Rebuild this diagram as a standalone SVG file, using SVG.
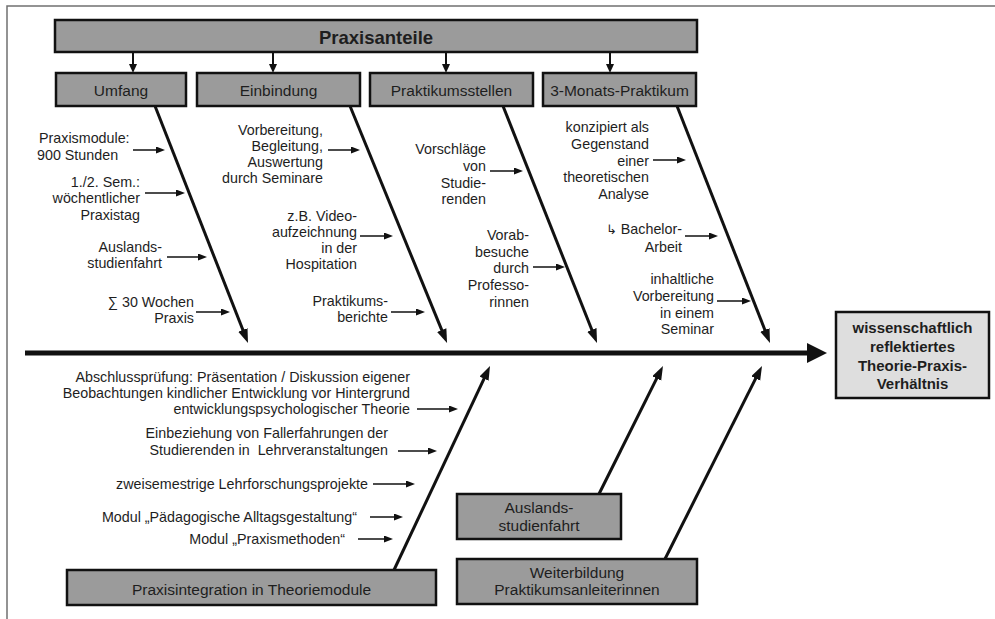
<svg xmlns="http://www.w3.org/2000/svg" width="995" height="619" viewBox="0 0 995 619">
<style>
  text { font-family: "Liberation Sans", Arial, sans-serif; fill: #1e1e1e; }
  .lbl { font-size: 14.3px; text-anchor: end; }
  .lbls { font-size: 14.3px; text-anchor: start; }
  .box { fill: #9b9b9b; stroke: #111; stroke-width: 2.5; }
  .res { fill: #dedede; stroke: #111; stroke-width: 2.5; }
  .bt { font-size: 15.5px; text-anchor: middle; }
  .rt { font-size: 15px; font-weight: bold; text-anchor: middle; }
  .small { stroke: #111; stroke-width: 1.5; fill: none; marker-end: url(#ah); }
  .bone { stroke: #111; stroke-width: 3; fill: none; marker-end: url(#bh); }
  .down { stroke: #111; stroke-width: 2; fill: none; marker-end: url(#dh); }
  .frame { stroke: #707070; stroke-width: 1.5; fill: none; }
</style>
<defs>
  <marker id="ah" markerUnits="userSpaceOnUse" markerWidth="10" markerHeight="8" refX="1" refY="3.5" orient="auto">
    <path d="M0,0 L9,3.5 L0,7 z" fill="#111"/>
  </marker>
  <marker id="dh" markerUnits="userSpaceOnUse" markerWidth="10" markerHeight="9" refX="1" refY="4" orient="auto">
    <path d="M0,0 L9,4 L0,8 z" fill="#111"/>
  </marker>
  <marker id="bh" markerUnits="userSpaceOnUse" markerWidth="15" markerHeight="11" refX="2" refY="5" orient="auto">
    <path d="M0,0 L14,5 L0,10 z" fill="#111"/>
  </marker>
  <marker id="sh" markerUnits="userSpaceOnUse" markerWidth="21" markerHeight="21" refX="2" refY="10" orient="auto">
    <path d="M0,0 L20,10 L0,20 z" fill="#111"/>
  </marker>
</defs>

<path class="frame" d="M995,6 H7 V619"/>

<g id="connectors">
  <line class="down" x1="133" y1="52" x2="133" y2="65"/>
  <line class="down" x1="273" y1="52" x2="273" y2="65"/>
  <line class="down" x1="446" y1="52" x2="446" y2="65"/>
  <line class="down" x1="610" y1="52" x2="610" y2="65"/>

  <line x1="25" y1="353" x2="809" y2="353" stroke="#111" stroke-width="5" marker-end="url(#sh)"/>

  <line class="bone" x1="155" y1="106" x2="243.6" y2="331.8"/>
  <line class="bone" x1="350" y1="106" x2="442.5" y2="331.9"/>
  <line class="bone" x1="503" y1="106" x2="592.6" y2="331.8"/>
  <line class="bone" x1="677" y1="106" x2="765.6" y2="331.8"/>

  <line class="bone" x1="394" y1="570" x2="484.9" y2="376.9"/>
  <line class="bone" x1="599" y1="494" x2="657.6" y2="376.7"/>
  <line class="bone" x1="665" y1="559" x2="756.6" y2="376.7"/>

  <line class="small" x1="133" y1="150" x2="157" y2="150"/>
  <line class="small" x1="145" y1="193" x2="177" y2="193"/>
  <line class="small" x1="167" y1="257" x2="199" y2="257"/>
  <line class="small" x1="196" y1="312" x2="222" y2="312"/>

  <line class="small" x1="328" y1="150" x2="352" y2="150"/>
  <line class="small" x1="360" y1="236" x2="385" y2="236"/>
  <line class="small" x1="391" y1="312" x2="417" y2="312"/>

  <line class="small" x1="490" y1="171" x2="515" y2="171"/>
  <line class="small" x1="533" y1="267" x2="557" y2="267"/>

  <line class="small" x1="653" y1="160" x2="678" y2="160"/>
  <line class="small" x1="685" y1="236" x2="710" y2="236"/>
  <line class="small" x1="717" y1="301" x2="743" y2="301"/>

  <line class="small" x1="417" y1="409" x2="450" y2="409"/>
  <line class="small" x1="398" y1="451" x2="429" y2="451"/>
  <line class="small" x1="373" y1="484" x2="407" y2="484"/>
  <line class="small" x1="370" y1="517" x2="395" y2="517"/>
  <line class="small" x1="358" y1="539" x2="385" y2="539"/>
</g>

<g id="praxisanteile">
  <rect class="box" x="55" y="20" width="642" height="32"/>
  <text x="376" y="43.5" font-size="18.5" font-weight="bold" text-anchor="middle">Praxisanteile</text>
</g>

<g id="umfang">
  <rect class="box" x="56" y="73" width="130" height="33"/>
  <text class="bt" x="121" y="95.5">Umfang</text>
</g>
<g id="einbindung">
  <rect class="box" x="197" y="73" width="163" height="33"/>
  <text class="bt" x="278.5" y="95.5">Einbindung</text>
</g>
<g id="praktikumsstellen">
  <rect class="box" x="370" y="73" width="163" height="33"/>
  <text class="bt" x="451.5" y="95.5">Praktikumsstellen</text>
</g>
<g id="monats">
  <rect class="box" x="543" y="73" width="153" height="33"/>
  <text class="bt" x="619.5" y="95.5">3-Monats-Praktikum</text>
</g>

<g id="result">
  <rect class="res" x="836" y="312" width="153" height="86"/>
  <text class="rt" x="912.5" y="333">wissenschaftlich</text>
  <text class="rt" x="912.5" y="352">reflektiertes</text>
  <text class="rt" x="912.5" y="371">Theorie-Praxis-</text>
  <text class="rt" x="912.5" y="389">Verhältnis</text>
</g>

<g id="praxisintegration">
  <rect class="box" x="67" y="570" width="369" height="35"/>
  <text class="bt" x="251.5" y="595">Praxisintegration in Theoriemodule</text>
</g>
<g id="auslandsbox">
  <rect class="box" x="457" y="494" width="164" height="45"/>
  <text class="bt" x="539" y="513">Auslands-</text>
  <text class="bt" x="539" y="531">studienfahrt</text>
</g>
<g id="weiterbildung">
  <rect class="box" x="457" y="559" width="240" height="45"/>
  <text class="bt" x="577" y="578">Weiterbildung</text>
  <text class="bt" x="577" y="595">Praktikumsanleiterinnen</text>
</g>

<g id="labels-umfang">
  <text class="lbls" x="39" y="143">Praxismodule:</text>
  <text class="lbls" x="37" y="160">900 Stunden</text>
  <text class="lbl" x="140" y="187">1./2. Sem.:</text>
  <text class="lbl" x="140" y="203">wöchentlicher</text>
  <text class="lbl" x="140" y="220">Praxistag</text>
  <text class="lbl" x="162" y="252">Auslands-</text>
  <text class="lbl" x="162" y="268">studienfahrt</text>
  <text class="lbl" x="194" y="307">∑ 30 Wochen</text>
  <text class="lbl" x="194" y="323">Praxis</text>
</g>

<g id="labels-einbindung">
  <text class="lbl" x="323" y="135">Vorbereitung,</text>
  <text class="lbl" x="323" y="151">Begleitung,</text>
  <text class="lbl" x="323" y="167">Auswertung</text>
  <text class="lbl" x="323" y="183">durch Seminare</text>
  <text class="lbl" x="357" y="221">z.B. Video-</text>
  <text class="lbl" x="357" y="237">aufzeichnung</text>
  <text class="lbl" x="357" y="253">in der</text>
  <text class="lbl" x="357" y="269">Hospitation</text>
  <text class="lbl" x="388" y="306">Praktikums-</text>
  <text class="lbl" x="388" y="322">berichte</text>
</g>

<g id="labels-praktikumsstellen">
  <text class="lbl" x="486" y="154">Vorschläge</text>
  <text class="lbl" x="486" y="171">von</text>
  <text class="lbl" x="486" y="188">Studie-</text>
  <text class="lbl" x="486" y="204">renden</text>
  <text class="lbl" x="529" y="240">Vorab-</text>
  <text class="lbl" x="529" y="257">besuche</text>
  <text class="lbl" x="529" y="273">durch</text>
  <text class="lbl" x="529" y="290">Professo-</text>
  <text class="lbl" x="529" y="307">rinnen</text>
</g>

<g id="labels-monats">
  <text class="lbl" x="649" y="132">konzipiert als</text>
  <text class="lbl" x="649" y="149">Gegenstand</text>
  <text class="lbl" x="649" y="166">einer</text>
  <text class="lbl" x="649" y="182">theoretischen</text>
  <text class="lbl" x="649" y="199">Analyse</text>
  <text class="lbl" x="682" y="234"><tspan font-family="'DejaVu Sans', sans-serif" font-size="13">↳</tspan> Bachelor-</text>
  <text class="lbl" x="682" y="252">Arbeit</text>
  <text class="lbl" x="714" y="284">inhaltliche</text>
  <text class="lbl" x="714" y="301">Vorbereitung</text>
  <text class="lbl" x="714" y="318">in einem</text>
  <text class="lbl" x="714" y="334">Seminar</text>
</g>

<g id="labels-bottom">
  <text class="lbl" x="410" y="382">Abschlussprüfung: Präsentation / Diskussion eigener</text>
  <text class="lbl" x="410" y="398">Beobachtungen kindlicher Entwicklung vor Hintergrund</text>
  <text class="lbl" x="410" y="414">entwicklungspsychologischer Theorie</text>
  <text class="lbl" x="388" y="438">Einbeziehung von Fallerfahrungen der</text>
  <text class="lbl" x="388" y="455" xml:space="preserve">Studierenden in  Lehrveranstaltungen</text>
  <text class="lbl" x="368" y="489">zweisemestrige Lehrforschungsprojekte</text>
  <text class="lbl" x="357" y="522">Modul „Pädagogische Alltagsgestaltung“</text>
  <text class="lbl" x="345" y="544">Modul „Praxismethoden“</text>
</g>
</svg>
